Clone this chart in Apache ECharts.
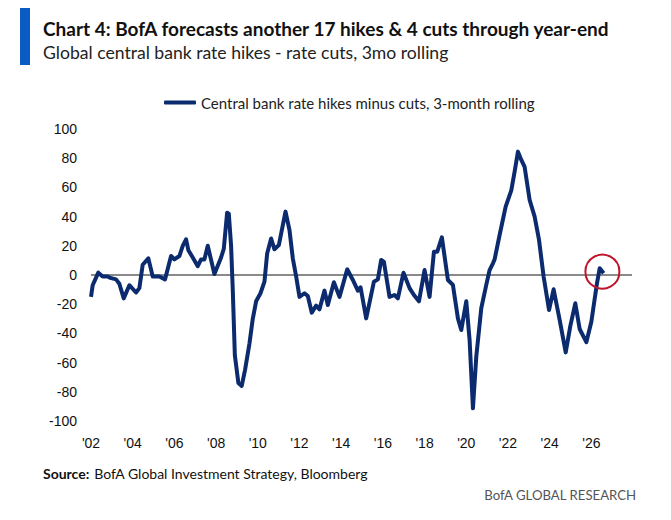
<!DOCTYPE html>
<html>
<head>
<meta charset="utf-8">
<script src="https://cdn.jsdelivr.net/npm/echarts@6/dist/echarts.min.js"></script>
<style>
html,body{margin:0;padding:0;background:#fff;}
#c{width:671px;height:520px;}
</style>
</head>
<body>
<div id="c"></div>
<script>
// Time in decimal years
const years = [
 2002.00,2002.08,2002.35,2002.56,2002.80,2002.93,2003.20,2003.36,2003.57,2003.84,
 2004.16,2004.32,2004.48,2004.75,2004.96,2005.28,2005.55,2005.84,2006.00,2006.24,
 2006.40,2006.56,2006.67,2006.88,2007.12,2007.28,2007.44,2007.60,2007.92,2008.24,
 2008.37,2008.53,2008.61,2008.72,2008.80,2008.90,2009.07,2009.23,2009.39,2009.60,
 2009.76,2009.92,2010.13,2010.32,2010.45,2010.64,2010.80,2011.01,2011.33,2011.52,
 2011.68,2011.84,2012.00,2012.24,2012.40,2012.59,2012.80,2012.96,2013.20,2013.36,
 2013.65,2013.92,2014.29,2014.56,2014.80,2014.93,2015.20,2015.57,2015.76,2015.92,
 2016.05,2016.32,2016.56,2016.72,2016.99,2017.28,2017.49,2017.73,2018.00,2018.24,
 2018.45,2018.61,2018.83,2019.12,2019.36,2019.60,2019.76,2020.00,2020.16,2020.32,
 2020.48,2020.72,2020.96,2021.12,2021.28,2021.36,2021.60,2021.89,2022.16,2022.32,
 2022.48,2022.64,2022.80,2023.04,2023.28,2023.49,2023.71,2023.97,2024.19,2024.48,
 2024.77,2024.99,2025.23,2025.44,2025.76,2026.00,2026.27,2026.40,2026.59
];
const values = [
 -15,-7,1.6,-1,-1,-2,-3,-6,-16,-7,
 -12,-9,7,11.4,-1,-1,-3,13,10.7,13,
 19.9,24.4,17,12,6,10.7,10.7,20,0.7,12,
 18,42.7,42,20,-10,-55,-74,-76,-65,-47,
 -30,-18,-12.5,-4.6,14.8,25,17.6,20.5,43.4,30.8,
 11.4,-1,-15,-12.5,-14.4,-25.8,-21,-23.5,-10.7,-20.5,
 -5,-15,3.9,-3.4,-10.7,-8.4,-29.7,-4.6,-3,10.3,
 9,-15,-13.7,-16,1.6,-9,-13.7,-18,3.4,-15,
 16,16,25.8,-3.4,-6.8,-29.7,-37.7,-18,-44.5,-91.3,
 -56,-22.8,-6.8,3.4,8,10.7,27.4,46.8,58,70.8,
 84.5,78.8,74,51.4,40,24,-1,-24,-9.8,-30.8,
 -53,-35,-19.4,-37,-46,-32,-5.7,4.6,1.2
];
const seriesName = 'Central bank rate hikes minus cuts, 3-month rolling';
const yTicks = [-100,-80,-60,-40,-20,0,20,40,60,80,100];
const xTickYears = [2002,2004,2006,2008,2010,2012,2014,2016,2018,2020,2022,2024,2026];
const highlight = [2026.53, 2.3];

const data = years.map((y, i) => [y, values[i]]);
const FONT = "Lato,'Liberation Sans',sans-serif";
const FONT2 = "'Liberation Sans',Arial,sans-serif";

const chart = echarts.init(document.getElementById('c'), null, {renderer: 'svg'});
chart.setOption({
  animation: false,
  backgroundColor: '#ffffff',
  title: [
    {text: 'Chart 4: BofA forecasts another 17 hikes & 4 cuts through year-end',
     left: 43, top: 17, padding: 0,
     textStyle: {fontFamily: FONT, fontWeight: 'bold', fontSize: 19, color: '#111', lineHeight: 22}},
    {text: 'Global central bank rate hikes - rate cuts, 3mo rolling',
     left: 43, top: 41, padding: 0,
     textStyle: {fontFamily: FONT, fontWeight: 'normal', fontSize: 17.6, color: '#222', lineHeight: 22}},
    {text: '{b|Source:} {n|BofA Global Investment Strategy, Bloomberg}',
     left: 43, top: 464, padding: 0,
     textStyle: {rich: {
       b: {fontFamily: FONT, fontWeight: 'bold', fontSize: 14, color: '#111'},
       n: {fontFamily: FONT, fontWeight: 'normal', fontSize: 14, color: '#111'}}}},
    {text: 'BofA GLOBAL RESEARCH',
     right: 34, top: 488, padding: 0,
     textStyle: {fontFamily: FONT, fontWeight: 'normal', fontSize: 13.2, color: '#555'}}
  ],
  graphic: [
    {type: 'rect', left: 20, top: 8, shape: {width: 10, height: 57}, style: {fill: '#0a5bc4'}}
  ],
  legend: {
    data: [seriesName],
    left: 164, top: 95, padding: 0,
    icon: 'roundRect', itemWidth: 32, itemHeight: 4, itemGap: 6,
    textStyle: {fontFamily: FONT, fontSize: 15, color: '#222'}
  },
  grid: {left: 91, right: 39, top: 129, bottom: 99, containLabel: false},
  xAxis: {
    type: 'value', min: 2002, max: 2027.95, interval: 2,
    axisLine: {show: false}, axisTick: {show: false}, splitLine: {show: false},
    axisLabel: {
      margin: 15, fontFamily: FONT2, fontSize: 14, color: '#111', showMaxLabel: false,
      formatter: v => xTickYears.indexOf(v) >= 0 ? "'" + String(v).slice(2) : ''
    }
  },
  yAxis: {
    type: 'value', min: -100, max: 100, interval: 20,
    axisLine: {show: false}, axisTick: {show: false}, splitLine: {show: false},
    axisLabel: {margin: 14, fontFamily: FONT2, fontSize: 14, color: '#111',
      formatter: v => yTicks.indexOf(v) >= 0 ? String(v) : ''}
  },
  series: [{
    name: seriesName,
    type: 'line',
    data: data,
    showSymbol: false,
    symbol: 'none',
    lineStyle: {color: '#0b2b6e', width: 4, join: 'round'},
    itemStyle: {color: '#0b2b6e'},
    z: 3,
    markLine: {
      silent: true, symbol: ['none', 'none'], label: {show: false},
      lineStyle: {color: '#8a8a8a', width: 2, type: 'solid'},
      data: [{yAxis: 0}], z: 1
    },
    markPoint: {
      silent: true, symbol: 'circle', symbolSize: 34, label: {show: false},
      itemStyle: {color: 'rgba(0,0,0,0)', borderColor: '#c0142c', borderWidth: 2},
      data: [{coord: highlight}]
    }
  }]
});
</script>
</body>
</html>
